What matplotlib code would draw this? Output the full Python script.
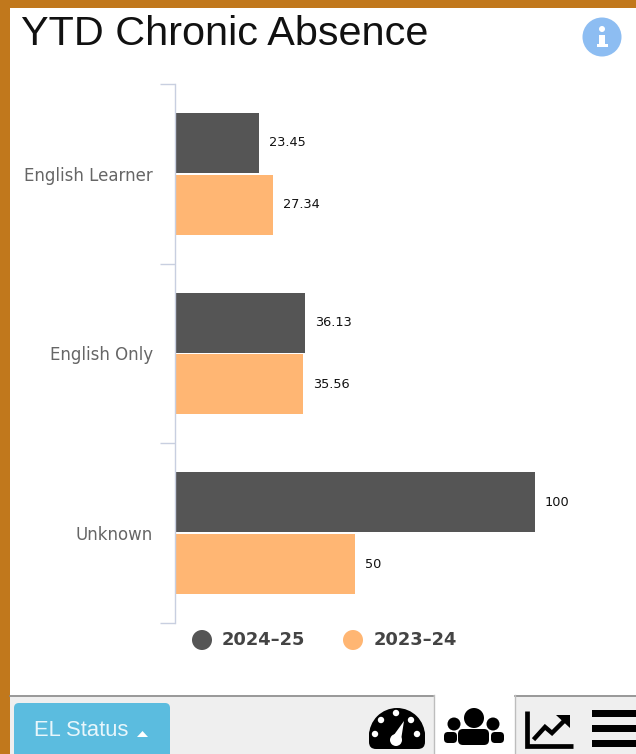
import matplotlib
matplotlib.use('Agg')
import numpy as np
import matplotlib.pyplot as plt
from matplotlib.patches import Circle, FancyBboxPatch, Rectangle, Wedge, Polygon

categories = ['English Learner', 'English Only', 'Unknown']
series_names = ['2024-25', '2023-24']
values_2024 = [23.45, 36.13, 100]
values_2023 = [27.34, 35.56, 50]
value_labels_2024 = ['23.45', '36.13', '100']
value_labels_2023 = ['27.34', '35.56', '50']

DARK = '#555555'
ORANGE = '#ffb673'
BORDER = '#c1781c'
AXIS_LINE = '#c8cfe0'
W, H = 636, 754

fig = plt.figure(figsize=(W / 100, H / 100), dpi=100, facecolor='white')

# page furniture, drawn in pixel coordinates
bg = fig.add_axes([0, 0, 1, 1])
bg.set_xlim(0, W)
bg.set_ylim(H, 0)
bg.axis('off')
bg.add_patch(Rectangle((0, 0), W, 8, color=BORDER, lw=0))
bg.add_patch(Rectangle((0, 0), 9.5, H, color=BORDER, lw=0))
bg.text(21, 34, 'YTD Chronic Absence', family='Liberation Sans', fontsize=29.8,
        color='#111111', va='center', ha='left')

# info badge
bg.add_patch(Circle((602, 37), 19.5, color='#8dbdf2', lw=0))
bg.add_patch(Circle((602, 29), 3, color='white', lw=0))
bg.add_patch(Rectangle((598.5, 35), 6.5, 11, color='white', lw=0))
bg.add_patch(Rectangle((596.5, 44), 11, 3, color='white', lw=0))

# bottom tab bar
bg.add_patch(Rectangle((10, 695), 626, 59, color='#efefef', lw=0))
bg.plot([10, 433], [695.5, 695.5], color='#8a8a8a', lw=1.2)
bg.plot([515, 636], [695.5, 695.5], color='#8a8a8a', lw=1.2)
bg.add_patch(Rectangle((433.5, 694), 81.5, 60, facecolor='white', edgecolor='none'))
bg.plot([433.5, 433.5], [695, 754], color='#bdbdbd', lw=1)
bg.plot([515, 515], [695, 754], color='#bdbdbd', lw=1)
bg.add_patch(FancyBboxPatch((14, 703), 156, 63, boxstyle='round,pad=0,rounding_size=5',
                            facecolor='#5bbcdf', edgecolor='none'))
bg.text(34, 731, 'EL Status', family='Liberation Sans', fontsize=15.8, color='#e8f6fb',
        va='center', ha='left')
bg.add_patch(Polygon([[137, 737], [148, 737], [142.5, 731]], color='white', lw=0))

# gauge icon
bg.add_patch(Wedge((397, 736), 28, 180, 0, color='black', lw=0))
bg.add_patch(FancyBboxPatch((369, 728), 56, 21, boxstyle='round,pad=0,rounding_size=7',
                            color='black', lw=0))
for cx, cy in [(375, 734), (381, 720), (396, 713), (411, 720), (417, 734)]:
    bg.add_patch(Circle((cx, cy), 3.2, color='white', lw=0))
bg.add_patch(Polygon([[404, 721], [401, 740], [391, 739]], color='white', lw=0))
bg.add_patch(Circle((396, 740), 6, color='white', lw=0))

# people icon
bg.add_patch(Circle((474, 718), 10, color='black', lw=0))
bg.add_patch(Circle((454, 724), 6.5, color='black', lw=0))
bg.add_patch(Circle((493, 724), 6.5, color='black', lw=0))
bg.add_patch(FancyBboxPatch((458, 729), 31, 16, boxstyle='round,pad=0,rounding_size=5',
                            color='black', lw=0))
bg.add_patch(FancyBboxPatch((444, 732), 13, 11, boxstyle='round,pad=0,rounding_size=4',
                            color='black', lw=0))
bg.add_patch(FancyBboxPatch((491, 732), 13, 11, boxstyle='round,pad=0,rounding_size=4',
                            color='black', lw=0))

# trend icon
bg.plot([527, 527, 573], [711, 746, 746], color='black', lw=3.4, solid_capstyle='butt',
        solid_joinstyle='miter')
bg.plot([535, 545, 552, 563], [738, 727, 733, 722], color='black', lw=3.2,
        solid_joinstyle='miter')
bg.add_patch(Polygon([[556, 715], [570, 715], [570, 728]], color='black', lw=0))

# menu icon
for y in [713.5, 728.5, 743.5]:
    bg.add_patch(Rectangle((592, y - 3.5), 44, 7, color='black', lw=0))

# chart
ax = fig.add_axes([175 / W, 1 - 623 / H, 425 / W, 539 / H])
ax.patch.set_alpha(0)
y = np.arange(len(categories))
offset = 0.172
bar_h = 0.335
ax.barh(y - offset, values_2024, height=bar_h, color=DARK, label=series_names[0])
ax.barh(y + offset, values_2023, height=bar_h, color=ORANGE, label=series_names[1])
ax.set_xlim(0, 425 / 3.6)
ax.set_ylim(2.5, -0.5)

for yi, v, s in zip(y - offset, values_2024, value_labels_2024):
    ax.annotate(s, (v, yi), xytext=(7, 0), textcoords='offset points', va='center',
                ha='left', fontsize=9.3, color='#111111')
for yi, v, s in zip(y + offset, values_2023, value_labels_2023):
    ax.annotate(s, (v, yi), xytext=(7, 0), textcoords='offset points', va='center',
                ha='left', fontsize=9.3, color='#111111')

for side in ['top', 'right', 'bottom']:
    ax.spines[side].set_visible(False)
ax.spines['left'].set_color(AXIS_LINE)
ax.spines['left'].set_linewidth(1)
ax.xaxis.set_visible(False)
ax.set_yticks(np.arange(-0.5, 3, 1))
ax.set_yticklabels([])
ax.tick_params(axis='y', which='major', length=10.5, width=1, color=AXIS_LINE)
ax.set_yticks(y, labels=categories, minor=True)
ax.tick_params(axis='y', which='minor', length=0, pad=16, labelsize=12, labelcolor='#666666')

# legend, placed by hand like the highcharts one
bg.add_patch(Circle((202, 640), 10, color=DARK, lw=0))
bg.add_patch(Circle((353, 640), 10, color=ORANGE, lw=0))
bg.text(222, 640, series_names[0].replace('-', '\u2013'), fontsize=12.9, fontweight='bold',
        color='#444444', va='center', ha='left')
bg.text(374, 640, series_names[1].replace('-', '\u2013'), fontsize=12.9, fontweight='bold',
        color='#444444', va='center', ha='left')

fig.savefig('out.png', dpi=100)
